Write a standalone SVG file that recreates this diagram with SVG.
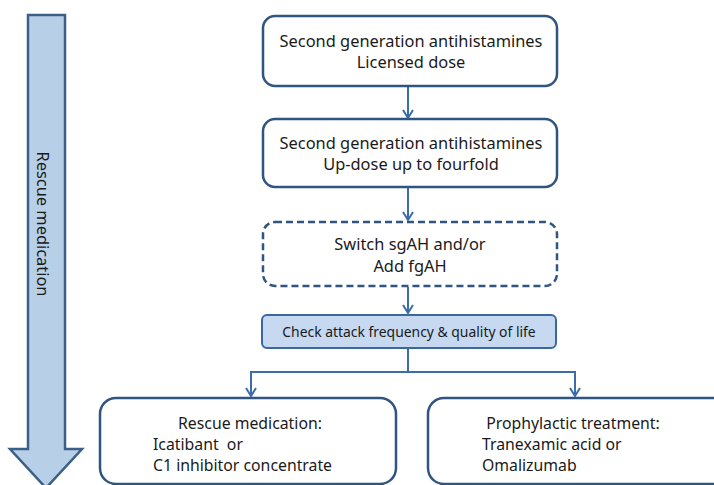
<svg xmlns="http://www.w3.org/2000/svg" width="714" height="485" viewBox="0 0 714 485">
<defs>
<style>
.box{fill:#fff;stroke:#2f5580;stroke-width:2.5}
.dash{stroke-dasharray:7 4}
.chk{fill:#c6d9f0;stroke:#3b67a0;stroke-width:2}
.t{font-family:"Noto Sans","Open Sans",sans-serif;font-size:16.4px;fill:#1a1a1a}
.b{font-size:15.8px}
.s{font-size:13.9px}
.c{stroke:#3b6ea8;stroke-width:2;fill:none}
</style>
<marker id="ah" viewBox="0 0 10 12" refX="9" refY="6" markerWidth="10" markerHeight="12" markerUnits="userSpaceOnUse" orient="auto">
<path d="M1 1 L9 6 L1 11" fill="none" stroke="#3b6ea8" stroke-width="2"/>
</marker>
</defs>
<rect width="714" height="485" fill="#fff"/>
<g id="rescue-arrow">
<path d="M28 15 H65 V449 H82 L46 488 L10 449 H28 Z" fill="#b8cfe8" stroke="#3c5f87" stroke-width="2.5"/>
<text class="t" transform="translate(41,224) rotate(90)" text-anchor="middle" font-size="13.5" dy="4">Rescue medication</text>
</g>
<g id="connectors">
<path class="c" d="M408 87 V118" marker-end="url(#ah)"/>
<path class="c" d="M408 188 V220" marker-end="url(#ah)"/>
<path class="c" d="M408 287 V313" marker-end="url(#ah)"/>
<path class="c" d="M408 349 V372"/>
<path class="c" d="M251 372 H575"/>
<path class="c" d="M251 371 V396" marker-end="url(#ah)"/>
<path class="c" d="M575 371 V396" marker-end="url(#ah)"/>
</g>
<g id="n1">
<rect class="box" x="263" y="16" width="294" height="70" rx="12"/>
<text class="t" x="411" y="47" text-anchor="middle">Second generation antihistamines</text>
<text class="t" x="411" y="68" text-anchor="middle">Licensed dose</text>
</g>
<g id="n2">
<rect class="box" x="263" y="119" width="294" height="68" rx="12"/>
<text class="t" x="411" y="149" text-anchor="middle">Second generation antihistamines</text>
<text class="t" x="411" y="170" text-anchor="middle">Up-dose up to fourfold</text>
</g>
<g id="n3">
<rect class="box dash" x="263" y="222" width="294" height="64" rx="12"/>
<text class="t" x="410" y="250" text-anchor="middle">Switch sgAH and/or</text>
<text class="t" x="410" y="272" text-anchor="middle">Add fgAH</text>
</g>
<g id="n4">
<rect class="chk" x="262" y="315" width="294" height="33" rx="5"/>
<text class="t s" x="409" y="337" text-anchor="middle">Check attack frequency &amp; quality of life</text>
</g>
<g id="n5">
<rect class="box" x="100" y="398" width="296" height="86" rx="16"/>
<text class="t b" x="250" y="429" text-anchor="middle">Rescue medication:</text>
<text class="t b" x="153" y="450" xml:space="preserve">Icatibant  or</text>
<text class="t b" x="153" y="471">C1 inhibitor concentrate</text>
</g>
<g id="n6">
<rect class="box" x="428" y="398" width="310" height="86" rx="16"/>
<text class="t b" x="573" y="429" text-anchor="middle">Prophylactic treatment:</text>
<text class="t b" x="482" y="450">Tranexamic acid or</text>
<text class="t b" x="482" y="471">Omalizumab</text>
</g>
</svg>
